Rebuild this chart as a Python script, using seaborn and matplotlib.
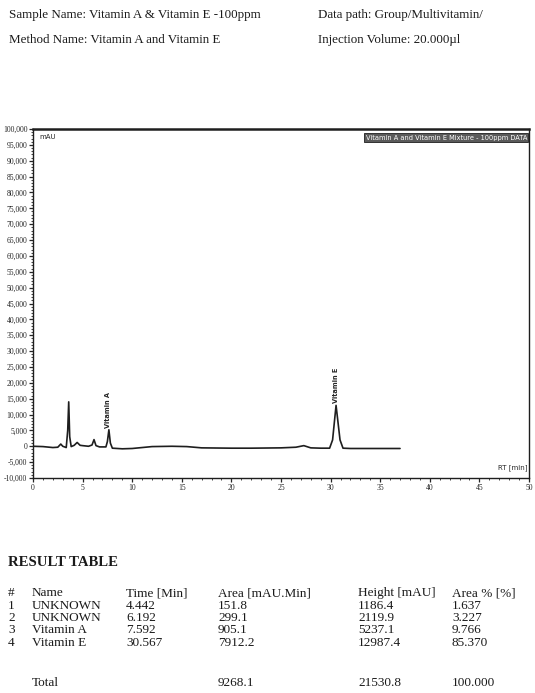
import numpy as np
import pandas as pd
import matplotlib
matplotlib.use("Agg")
import matplotlib.pyplot as plt
import seaborn as sns
from matplotlib.ticker import MultipleLocator, FuncFormatter

# trace (time in min, signal in mAU)
rt_min = [0.0, 1.0, 2.0, 2.5, 2.8, 3.0, 3.35, 3.5, 3.6, 3.7, 3.85, 4.15, 4.45, 4.75,
          5.0, 5.6, 5.95, 6.15, 6.35, 6.7, 7.35, 7.5, 7.65, 7.8, 8.0, 9.0, 10.0,
          12.0, 14.0, 15.5, 17.0, 20.0, 22.0, 25.0, 26.5, 27.3, 28.0, 29.0, 29.9,
          30.2, 30.55, 30.95, 31.25, 32.0, 37.0]
signal_mau = [0, -100, -400, -300, 700, 0, -400, 5000, 14000, 3000, -100, 300, 1200, 300,
              200, 0, 400, 2100, 200, -200, -200, 1500, 5200, 1000, -600, -800, -700,
              -100, 0, -100, -500, -600, -600, -500, -300, 200, -500, -600, -600,
              2000, 12900, 2000, -600, -700, -700]

peak_names = ["Vitamin A", "Vitamin E"]
peak_rt = [7.592, 30.567]
peak_top = [5237.1, 12987.4]

# result table
row_no = ["1", "2", "3", "4"]
names = ["UNKNOWN", "UNKNOWN", "Vitamin A", "Vitamin E"]
times = ["4.442", "6.192", "7.592", "30.567"]
areas = ["151.8", "299.1", "905.1", "7912.2"]
heights = ["1186.4", "2119.9", "5237.1", "12987.4"]
area_pct = ["1.637", "3.227", "9.766", "85.370"]
totals = ["9268.1", "21530.8", "100.000"]
col_heads = ["Name", "Time [Min]", "Area [mAU.Min]", "Height [mAU]", "Area % [%]"]

sns.set_style("ticks")
plt.rcParams["font.family"] = ["Liberation Serif", "DejaVu Serif"]

fig = plt.figure(figsize=(5.35, 6.93), dpi=100)
W, H = 535, 693

def txt(x, y, s, **kw):
    fig.text(x / W, 1 - y / H, s, va="center", ha="left", color="#1a1a1a", **kw)

# header
txt(9, 15, "Sample Name: Vitamin A & Vitamin E -100ppm", fontsize=9.4)
txt(318, 15, "Data path: Group/Multivitamin/", fontsize=9.4)
txt(9, 40, "Method Name: Vitamin A and Vitamin E", fontsize=9.4)
txt(318, 40, "Injection Volume: 20.000\u00b5l", fontsize=9.4)

ax = fig.add_axes([33 / W, 1 - 478 / H, (529 - 33) / W, (478 - 129) / H])
df = pd.DataFrame({"rt": rt_min, "mau": signal_mau})
sns.lineplot(data=df, x="rt", y="mau", ax=ax, color="#1e1e1e", lw=1.2, sort=False)

ax.set_xlim(0, 50)
ax.set_ylim(-10000, 100000)
ax.xaxis.set_major_locator(MultipleLocator(5))
ax.xaxis.set_minor_locator(MultipleLocator(1))
ax.yaxis.set_major_locator(MultipleLocator(5000))
ax.yaxis.set_minor_locator(MultipleLocator(1000))
ax.yaxis.set_major_formatter(FuncFormatter(lambda v, p: f"{int(v):,}"))
ax.tick_params(axis="both", which="major", labelsize=5.5, length=3, width=0.9, pad=1)
ax.tick_params(axis="both", which="minor", length=1.5, width=0.6)
ax.set_xlabel("")
ax.set_ylabel("")
for sp in ax.spines.values():
    sp.set_linewidth(1.0)
    sp.set_color("#1e1e1e")
ax.spines["top"].set_linewidth(1.8)

ax.text(0.012, 0.985, "mAU", transform=ax.transAxes, fontsize=5, va="top",
        family="DejaVu Sans")
ax.text(0.996, 0.02, "RT [min]", transform=ax.transAxes, fontsize=5, ha="right",
        va="bottom", family="DejaVu Sans")
ax.text(0.996, 0.984, "Vitamin A and Vitamin E Mixture - 100ppm DATA",
        transform=ax.transAxes, fontsize=4.8, ha="right", va="top", color="white",
        family="DejaVu Sans",
        bbox=dict(boxstyle="square,pad=0.2", fc="#5a5a5a", ec="#1e1e1e", lw=0.6))

for n, x, y in zip(peak_names, peak_rt, peak_top):
    ax.text(x, y + 500, n, rotation=90, fontsize=4.8, ha="center", va="bottom",
            family="DejaVu Sans", fontweight="bold")

# result table
txt(8, 563, "RESULT TABLE", fontsize=10.6, fontweight="bold")
cols = [8, 32, 126, 218, 358, 452]
row_y = [606, 618, 630, 643]
txt(cols[0], 593, "#", fontsize=9.5)
for cx, h in zip(cols[1:], col_heads):
    txt(cx, 593, h, fontsize=9.5)
for i in range(len(names)):
    for cx, v in zip(cols, [row_no[i], names[i], times[i], areas[i], heights[i], area_pct[i]]):
        txt(cx, row_y[i], v, fontsize=9.5)
txt(cols[1], 683, "Total", fontsize=9.5)
for cx, v in zip(cols[3:], totals):
    txt(cx, 683, v, fontsize=9.5)

fig.savefig("out.png", dpi=100)
